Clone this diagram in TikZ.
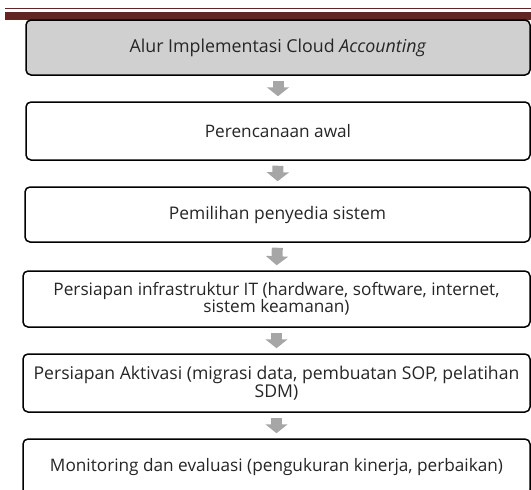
\documentclass[tikz,border=0pt]{standalone}
\usepackage{fontspec}
\setmainfont{Open Sans}
\usetikzlibrary{arrows.meta,calc}
\definecolor{barred}{HTML}{632523}
\definecolor{headgray}{HTML}{D0D0D0}
\definecolor{arrgray}{HTML}{A6A6A6}
\newcommand{\fsz}[1]{\fontsize{#1}{17.5}\selectfont}
\begin{document}
\begin{tikzpicture}[x=1pt,y=-1pt,
  stepbox/.style={draw=black, line width=1.5pt, rounded corners=5pt, fill=white,
    align=center, inner sep=0pt, text=black!85},
  flowarrow/.style={draw=arrgray, line width=11pt, shorten <=5pt, shorten >=5pt,
    -{Triangle[width=22pt,length=9pt]}}]
\useasboundingbox (0,0) rectangle (531,490);
% top bars
\fill[barred] (5,7.5) rectangle (531,9);
\fill[barred] (5,12) rectangle (531,20);
% boxes
\node[stepbox, fill=headgray, minimum width=504pt, minimum height=55pt, font=\fsz{17.8}] (b1) at (278,47.5)
  {Alur Implementasi Cloud \textit{Accounting}};
\node[stepbox, minimum width=504pt, minimum height=58pt, font=\fsz{17.2}] (b2) at (278,131)
  {Perencanaan awal};
\node[stepbox, minimum width=505pt, minimum height=55pt, font=\fsz{17.4}] (b3) at (277.5,214.5)
  {Pemilihan penyedia sistem};
\node[stepbox, minimum width=507pt, minimum height=56pt, font=\fsz{17.2}] (b4) at (276.5,299)
  {Persiapan infrastruktur IT (hardware, software, internet,\\sistem keamanan)};
\node[stepbox, minimum width=507pt, minimum height=58pt, font=\fsz{17.6}] (b5) at (276.5,383)
  {Persiapan Aktivasi (migrasi data, pembuatan SOP, pelatihan\\SDM)};
\node[stepbox, minimum width=507pt, minimum height=56pt, font=\fsz{17.2}] (b6) at (276.5,467)
  {Monitoring dan evaluasi (pengukuran kinerja, perbaikan)};
% arrows
\draw[flowarrow] (b1.south) -- (b2.north);
\draw[flowarrow] (b2.south) -- (b3.north);
\draw[flowarrow] (b3.south) -- (b4.north);
\draw[flowarrow] (b4.south) -- (b5.north);
\draw[flowarrow] (b5.south) -- (b6.north);
\end{tikzpicture}
\end{document}
